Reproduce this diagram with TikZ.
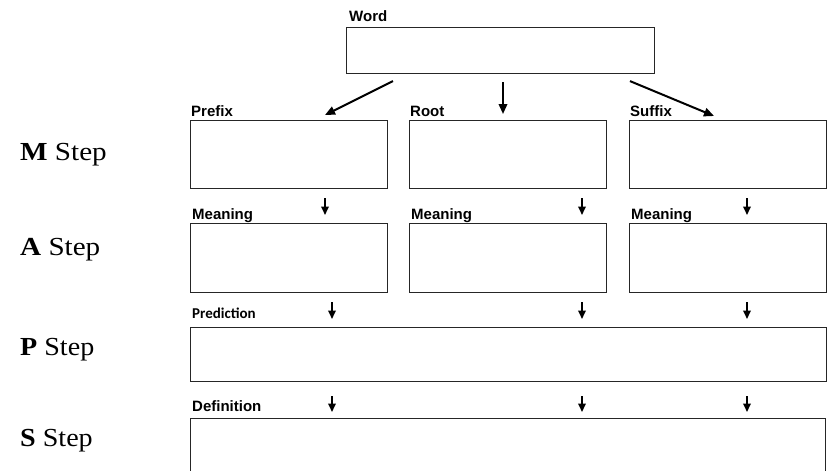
\documentclass[tikz,border=0pt]{standalone}
\usepackage{fontspec}
\usepackage{graphicx}
\setmainfont{Liberation Serif}
\newfontfamily\helv{Liberation Sans}
\newfontfamily\calib{Carlito}
\usetikzlibrary{arrows.meta}

\begin{document}
\begin{tikzpicture}[x=1pt, y=-1pt,
  box/.style={draw=black!85, line width=1.1pt, inner sep=0pt, anchor=north west},
  lbl/.style={font=\helv\bfseries\fontsize{15}{17}\selectfont, anchor=base west, inner sep=0pt},
  steplbl/.style={font=\fontsize{26}{30}\selectfont, anchor=base west, inner sep=0pt},
  arr/.style={line width=2pt, -{Triangle[length=10pt, width=8.5pt]}},
  darr/.style={line width=1.8pt, -{Triangle[length=8.5pt, width=7.5pt]}}]
  \useasboundingbox (0,0) rectangle (833,471);
  \clip (0,0) rectangle (833,471);

  % Word
  \node[box, minimum width=308pt, minimum height=46pt] (word) at (346,27) {};
  \node[lbl] (wordlbl) at (349,21) {Word};

  % M row: parts of the word
  \foreach \nm/\x/\txt in {prefix/190/Prefix, root/409/Root, suffix/629/Suffix} {
    \node[box, minimum width=197pt, minimum height=68pt] (\nm) at (\x,120) {};
    \node[lbl] (\nm lbl) at (\x+1,116) {\txt};
  }

  % A row: meanings
  \foreach \nm/\x in {pmean/190, rmean/409, smean/629} {
    \node[box, minimum width=197pt, minimum height=69pt] (\nm) at (\x,223) {};
    \node[lbl] (\nm lbl) at (\x+2,219) {Meaning};
  }

  % P and S rows
  \node[box, minimum width=636pt, minimum height=54pt] (pred) at (190,327) {};
  \node[lbl, font=\calib\bfseries\fontsize{15}{17}\selectfont] (predlbl) at (192,318) {Prediction};
  \node[box, minimum width=635pt, minimum height=70pt] (defn) at (190,418) {};
  \node[lbl] (defnlbl) at (192,411) {Definition};

  % Step labels
  \node[steplbl] (mstep) at (20,160) {\scalebox{1.12}[1]{\textbf{M} Step}};
  \node[steplbl] (astep) at (20,255) {\scalebox{1.12}[1]{\textbf{A} Step}};
  \node[steplbl] (pstep) at (20,355) {\scalebox{1.08}[1]{\textbf{P} Step}};
  \node[steplbl] (sstep) at (20,446) {\scalebox{1.08}[1]{\textbf{S} Step}};

  % Word -> parts
  \draw[arr] ([shift={(47pt,-7pt)}]word.south west) -- ([shift={(135pt,5pt)}]prefix.north west);
  \draw[arr] ([shift={(157pt,-8pt)}]word.south west) -- ([shift={(94pt,6pt)}]root.north west);
  \draw[arr] ([shift={(284pt,-7pt)}]word.south west) -- ([shift={(85pt,4pt)}]suffix.north west);

  % columns of the short arrows
  \coordinate (ca) at (325,0);
  \coordinate (cb) at (332,0);
  \coordinate (cc) at (582,0);
  \coordinate (cd) at (747,0);

  % M -> A
  \foreach \up/\dn/\c in {prefix/pmean/ca, root/rmean/cc, suffix/smean/cd}
    \draw[darr, shorten <=9pt, shorten >=8pt] (\up.south -| \c) -- (\dn.north -| \c);
  % A -> P
  \foreach \up/\c in {pmean/cb, rmean/cc, smean/cd}
    \draw[darr, shorten <=9pt, shorten >=8pt] (\up.south -| \c) -- (pred.north -| \c);
  % P -> S
  \foreach \c in {cb, cc, cd}
    \draw[darr, shorten <=14pt, shorten >=6pt] (pred.south -| \c) -- (defn.north -| \c);
\end{tikzpicture}
\end{document}
